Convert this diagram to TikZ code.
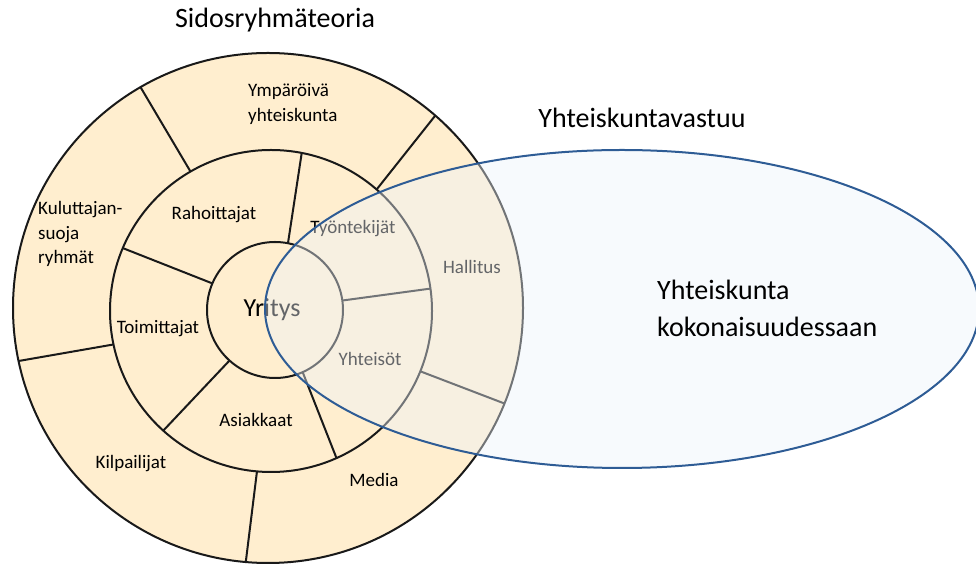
\documentclass[tikz,border=0pt]{standalone}
\usepackage{fontspec}
\setmainfont{Carlito}
\usetikzlibrary{calc,positioning}

\definecolor{peach}{HTML}{FFEECF}
\definecolor{skyfill}{HTML}{EDF3FA}
\definecolor{rimblue}{HTML}{2E5C95}

\begin{document}
\begin{tikzpicture}[x=1pt,y=1pt,
    ring/.style={circle,draw=black!90,line width=2pt,fill=peach,inner sep=0pt,outer sep=0pt},
    spoke/.style={draw=black!90,line width=2pt},
    group/.style={font=\fontsize{19}{24.5}\selectfont,align=left,inner sep=0pt},
    heading/.style={font=\fontsize{28}{37}\selectfont,align=left,inner sep=0pt}]
    \useasboundingbox (0,0) rectangle (976,564);

    % the three rings of the stakeholder model
    \node at (268,256) [ring,minimum size=510] (outer) {};
    \node at (271,253) [ring,minimum size=322] (middle) {};
    \node at (275,254) [ring,minimum size=136] (core) {};

    \foreach \a in {49,120,192,265,338}
      \draw[spoke] (middle.\a) -- (outer.\a);
    \foreach \a in {8,79,157,228,294}
      \draw[spoke] (core.\a) -- (middle.\a);

    \node at (275,544) [heading] (title) {Sidosryhmäteoria};

    % outer ring
    \node at (248,460) [group,anchor=west] (ymparoiva) {Ympäröivä\\yhteiskunta};
    \node at (38,330) [group,anchor=west] (kuluttaja) {Kuluttajan-\\suoja\\ryhmät};
    \node at (131,100) [group] (kilpailijat) {Kilpailijat};
    \node at (374,84) [group] (media) {Media};
    \node at (472,297) [group] (hallitus) {Hallitus};

    % middle ring
    \node at (214,349) [group] (rahoittajat) {Rahoittajat};
    \node at (353,335) [group] (tyontekijat) {Työntekijät};
    \node at (158,235) [group] (toimittajat) {Toimittajat};
    \node at (256,144) [group] (asiakkaat) {Asiakkaat};
    \node at (370,205) [group] (yhteisot) {Yhteisöt};

    \node at (272,254) [font=\fontsize{26}{30}\selectfont,inner sep=0pt] (yritys) {Yritys};

    % society as a whole
    \draw[rimblue,line width=2pt,fill=skyfill,fill opacity=0.42]
      (622,255) ellipse [x radius=357,y radius=159];

    \node at (642,446) [heading] (vastuu) {Yhteiskuntavastuu};
    \node at (657,256) [heading,anchor=west] (kokonaisuus) {Yhteiskunta\\kokonaisuudessaan};
\end{tikzpicture}
\end{document}
